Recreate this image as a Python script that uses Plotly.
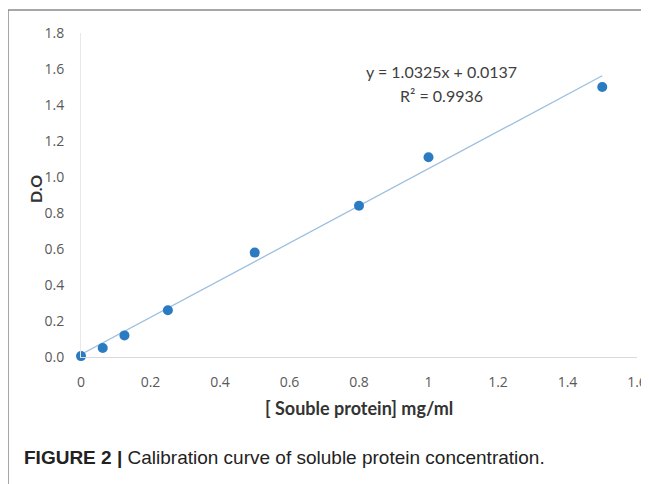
import plotly.graph_objects as go

# Data
conc = [0, 0.0625, 0.125, 0.25, 0.5, 0.8, 1.0, 1.5]
od = [0.005, 0.05, 0.12, 0.26, 0.58, 0.84, 1.11, 1.50]
slope = 1.0325
intercept = 0.0137
x_ticks = [0, 0.2, 0.4, 0.6, 0.8, 1, 1.2, 1.4, 1.6]
x_tick_labels = ["0", "0.2", "0.4", "0.6", "0.8", "1", "1.2", "1.4", "1.6"]
y_ticks = [0, 0.2, 0.4, 0.6, 0.8, 1.0, 1.2, 1.4, 1.6, 1.8]

OFF = 8  # page body margin
W, H = 649 - OFF, 484 - OFF


def px(x):
    return (x - OFF) / W


def py(y):
    return 1 - (y - OFF) / H


trend_x = [min(conc), max(conc)]
trend_y = [slope * v + intercept for v in trend_x]

fig = go.Figure()
fig.add_trace(go.Scatter(x=trend_x, y=trend_y, mode="lines",
                         line=dict(color="#9dbfe0", width=1.3), showlegend=False,
                         cliponaxis=False))
fig.add_trace(go.Scatter(x=conc, y=od, mode="markers",
                         marker=dict(color="#2b7bc2", size=10), showlegend=False,
                         cliponaxis=False))

tickfont = dict(family="Open Sans, Lato, sans-serif", size=14, color="#595959")
txt = "Lato, Open Sans, sans-serif"
fig.update_layout(
    width=W, height=H,
    margin=dict(l=0, r=0, t=0, b=0, pad=0, autoexpand=False),
    paper_bgcolor="white", plot_bgcolor="white",
    xaxis=dict(domain=[px(81), px(637)], range=[0, 1.6], tickvals=x_ticks,
               ticktext=x_tick_labels, showgrid=False, zeroline=False,
               showline=True, linecolor="#d9d9d9", linewidth=1, automargin=False,
               tickfont=tickfont, ticks="", ticklabelstandoff=12),
    yaxis=dict(domain=[py(357), py(33)], range=[0, 1.8], tickvals=y_ticks,
               tickformat=".1f", showgrid=False, zeroline=False,
               showline=True, linecolor="#e8e8e8", linewidth=1, automargin=False,
               tickfont=tickfont, ticks="", ticklabelstandoff=13),
    annotations=[
        dict(x=px(441), y=py(72), xref="paper", yref="paper", xanchor="center", yanchor="middle",
             text="y = 1.0325x + 0.0137", showarrow=False,
             font=dict(family=txt, size=16, color="#404040")),
        dict(x=px(442), y=py(95), xref="paper", yref="paper", xanchor="center", yanchor="middle",
             text="R² = 0.9936", showarrow=False,
             font=dict(family=txt, size=16, color="#404040")),
        dict(x=px(359), y=py(408), xref="paper", yref="paper", xanchor="center", yanchor="middle",
             text="<b>[ Souble protein] mg/ml</b>", showarrow=False,
             font=dict(family=txt, size=18, color="#333333")),
        dict(x=px(35), y=py(189), xref="paper", yref="paper", xanchor="center", yanchor="middle",
             text="<b>D.O</b>", showarrow=False, textangle=-90,
             font=dict(family=txt, size=16, color="#333333")),
        dict(x=px(22), y=py(457), xref="paper", yref="paper", xanchor="left", yanchor="middle",
             text="<b>FIGURE 2 |</b> Calibration curve of soluble protein concentration.",
             showarrow=False,
             font=dict(family="Liberation Sans, Arial, sans-serif", size=19, color="#222222")),
    ],
    shapes=[
        dict(type="line", xref="paper", yref="paper", x0=px(8), x1=1.02, y0=py(10), y1=py(10),
             line=dict(color="#8a8a8a", width=1.5)),
        dict(type="line", xref="paper", yref="paper", x0=px(8), x1=px(8), y0=-0.02, y1=py(10),
             line=dict(color="#8a8a8a", width=1.5)),
    ],
)

fig.write_html("out.html")
